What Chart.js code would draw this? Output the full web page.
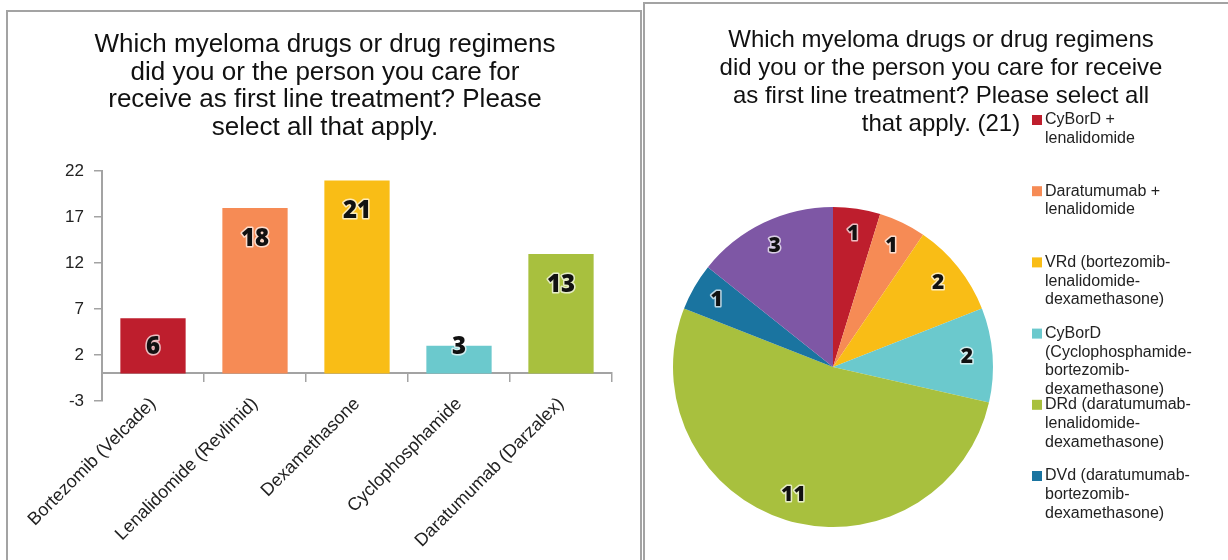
<!DOCTYPE html>
<html>
<head>
<meta charset="utf-8">
<script src="https://cdn.jsdelivr.net/npm/chart.js@4.4.0/dist/chart.umd.min.js"></script>
<style>
  body { margin: 0; background: #fff; width: 1228px; height: 560px; overflow: hidden; position: relative; }
  .panel { position: absolute; border: 2px solid #a3a3a3; box-sizing: border-box; }
  #barPanel { left: 6px; top: 10px; width: 636px; height: 580px; }
  #piePanel { left: 643px; top: 2px; width: 620px; height: 590px; }
  .holder { position: absolute; }
  #barHolder { left: 8px; top: 12px; width: 632px; height: 548px; }
  #pieHolder { left: 645px; top: 4px; width: 583px; height: 556px; }
</style>
</head>
<body>
<div class="panel" id="barPanel"></div>
<div class="panel" id="piePanel"></div>
<div class="holder" id="barHolder"><canvas id="drugChart"></canvas></div>
<div class="holder" id="pieHolder"><canvas id="regimenChart"></canvas></div>
<script>
// Data for the bar chart (single drugs)
const drugNames = ['Bortezomib (Velcade)', 'Lenalidomide (Revlimid)', 'Dexamethasone', 'Cyclophosphamide', 'Daratumumab (Darzalex)'];
const drugCounts = [6, 18, 21, 3, 13];
const yMin = -3;
const yMax = 22;
const yStep = 5;

// Data for the pie chart (regimens) - last legend entry is cut off in the original
const regimenNames = [
    ['CyBorD +', 'lenalidomide'],
    ['Daratumumab +', 'lenalidomide'],
    ['VRd (bortezomib-', 'lenalidomide-', 'dexamethasone)'],
    ['CyBorD', '(Cyclophosphamide-', 'bortezomib-', 'dexamethasone)'],
    ['DRd (daratumumab-', 'lenalidomide-', 'dexamethasone)'],
    ['DVd (daratumumab-', 'bortezomib-', 'dexamethasone)'],
    ['Other (please', 'specify)']
];
const regimenCounts = [1, 1, 2, 2, 11, 1, 3];

const palette = ['#BE1E2D', '#F68B55', '#F9BD16', '#6BC9CD', '#A8C03E', '#1A74A0', '#7E57A5'];
const font = '"Liberation Sans", Arial, sans-serif';
const numberFont = '"Open Sans", "Liberation Sans", sans-serif';

function outlinedText(ctx, text, x, y, size) {
    ctx.font = '800 ' + size + 'px ' + numberFont;
    ctx.textAlign = 'center';
    ctx.textBaseline = 'middle';
    ctx.lineJoin = 'round';
    ctx.lineWidth = 3;
    ctx.strokeStyle = 'rgba(255,255,255,0.7)';
    ctx.strokeText(text, x, y);
    ctx.fillStyle = '#111';
    ctx.fillText(text, x, y);
}

// value labels inside the bars
const barValues = {
    id: 'barValues',
    afterDatasetsDraw(chart) {
        const ctx = chart.ctx;
        const meta = chart.getDatasetMeta(0);
        ctx.save();
        meta.data.forEach((bar, i) => {
            const p = bar.getProps(['x', 'y', 'base'], true);
            const y = Math.min(p.y + 31, p.base - 26);
            outlinedText(ctx, String(chart.data.datasets[0].data[i]), p.x, y, 24);
        });
        ctx.restore();
    }
};

// value labels inside the slices
const sliceValues = {
    id: 'sliceValues',
    afterDatasetsDraw(chart) {
        const ctx = chart.ctx;
        const meta = chart.getDatasetMeta(0);
        ctx.save();
        meta.data.forEach((arc, i) => {
            const p = arc.getProps(['x', 'y', 'startAngle', 'endAngle', 'outerRadius'], true);
            const mid = (p.startAngle + p.endAngle) / 2;
            const r = p.outerRadius * 0.84;
            outlinedText(ctx, String(chart.data.datasets[0].data[i]), p.x + Math.cos(mid) * r, p.y + Math.sin(mid) * r, 21);
        });
        ctx.restore();
    }
};

// legend on the right with wrapped labels, as a layout box
const sideLegend = {
    id: 'sideLegend',
    beforeInit(chart) {
        const box = {
            position: 'right',
            weight: 0,
            fullSize: false,
            options: {},
            isHorizontal() { return false; },
            update(maxWidth, maxHeight) { this.width = 216; this.height = maxHeight; },
            draw() {
                const ctx = chart.ctx;
                const colors = chart.data.datasets[0].backgroundColor;
                const lineH = 18.7;
                ctx.save();
                ctx.font = '16px ' + font;
                ctx.textBaseline = 'middle';
                ctx.textAlign = 'left';
                chart.data.labels.forEach((lines, i) => {
                    const y = 116 + i * 71.2;
                    // entries that don't fit are dropped, like the original
                    if (y + (lines.length - 1) * lineH + 8 > chart.height) return;
                    ctx.fillStyle = colors[i];
                    ctx.fillRect(this.left + 39, y - 5, 10, 10);
                    ctx.fillStyle = '#222';
                    lines.forEach((t, k) => ctx.fillText(t, this.left + 52, y + k * lineH));
                });
                ctx.restore();
            }
        };
        Chart.layouts.addBox(chart, box);
    }
};

new Chart(document.getElementById('drugChart'), {
    type: 'bar',
    data: {
        labels: drugNames,
        datasets: [{
            data: drugCounts,
            backgroundColor: palette.slice(0, drugCounts.length),
            barPercentage: 0.64,
            categoryPercentage: 1
        }]
    },
    options: {
        responsive: true,
        maintainAspectRatio: false,
        animation: false,
        layout: { padding: { left: 30, right: 28, top: 0, bottom: 159 } },
        plugins: {
            legend: { display: false },
            tooltip: { enabled: false },
            title: {
                display: true,
                text: ['Which myeloma drugs or drug regimens', 'did you or the person you care for', 'receive as first line treatment? Please', 'select all that apply.'],
                color: '#111',
                font: { family: font, size: 26, weight: 'normal', lineHeight: 1.06 },
                padding: { top: 19, bottom: 30 }
            }
        },
        scales: {
            x: {
                position: { y: 0 },
                grid: { drawOnChartArea: false, color: '#a3a3a3', lineWidth: 1.5, tickLength: 8, offset: true },
                border: { color: '#a3a3a3', width: 2 },
                ticks: { color: '#222', font: { family: font, size: 18 }, minRotation: 45, maxRotation: 45, padding: 12, autoSkip: false },
                afterFit(s) { s.height = 0; s.paddingLeft = 0; s.paddingRight = 0; }
            },
            y: {
                min: yMin,
                max: yMax,
                grid: { drawOnChartArea: false, color: '#a3a3a3', lineWidth: 1.5, tickLength: 8 },
                border: { color: '#a3a3a3', width: 2 },
                ticks: { stepSize: yStep, color: '#222', font: { family: font, size: 17 }, padding: 10 },
                afterFit(s) { s.width = 64; }
            }
        }
    },
    plugins: [barValues]
});

new Chart(document.getElementById('regimenChart'), {
    type: 'pie',
    data: {
        labels: regimenNames,
        datasets: [{
            data: regimenCounts,
            backgroundColor: palette,
            borderWidth: 0
        }]
    },
    options: {
        responsive: true,
        maintainAspectRatio: false,
        animation: false,
        layout: { padding: { left: 28, right: 19, top: 0, bottom: 33 } },
        plugins: {
            legend: { display: false },
            tooltip: { enabled: false },
            title: {
                display: true,
                text: ['Which myeloma drugs or drug regimens', 'did you or the person you care for receive', 'as first line treatment? Please select all', 'that apply. (21)'],
                color: '#111',
                font: { family: font, size: 24, weight: 'normal', lineHeight: 1.1667 },
                padding: { top: 22, bottom: 69 }
            }
        }
    },
    plugins: [sliceValues, sideLegend]
});
</script>
</body>
</html>
